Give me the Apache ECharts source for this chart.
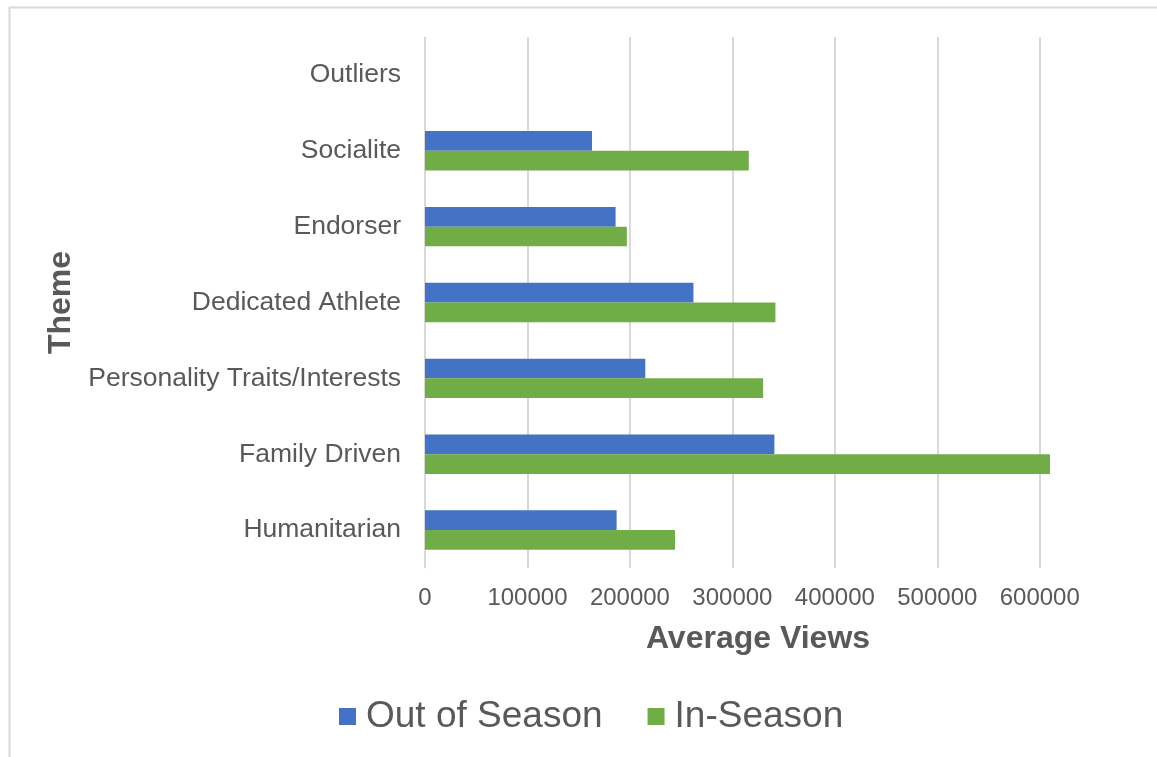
<!DOCTYPE html>
<html>
<head>
<meta charset="utf-8">
<script src="https://cdn.jsdelivr.net/npm/echarts@6/dist/echarts.min.js"></script>
<style>
html,body{margin:0;padding:0;background:#fff;}
#chart{width:1157px;height:757px;}
</style>
</head>
<body>
<div id="chart"></div>
<script>
const categories = ['Humanitarian', 'Family Driven', 'Personality Traits/Interests', 'Dedicated Athlete', 'Endorser', 'Socialite', 'Outliers'];
const outOfSeason = [187000, 341000, 215000, 262000, 186000, 163000, null];
const inSeason = [244000, 610000, 330000, 342000, 197000, 316000, null];
const xTicks = [0, 100000, 200000, 300000, 400000, 500000, 600000];

const chart = echarts.init(document.getElementById('chart'));
const font = '"Liberation Sans", Arial, sans-serif';
chart.setOption({
  animation: false,
  backgroundColor: '#fff',
  graphic: [{
    type: 'rect', left: 7, top: 5, shape: {width: 1170, height: 770},
    style: {fill: 'none', stroke: '#d9d9d9', lineWidth: 2}, silent: true
  }],
  grid: {left: 425, right: 66, top: 37, bottom: 189, containLabel: false},
  legend: {
    data: ['Out of Season', 'In-Season'],
    left: 334, top: 693,
    itemWidth: 17, itemHeight: 17, itemGap: 45,
    icon: 'rect',
    textStyle: {fontFamily: font, fontSize: 37, color: '#595959', padding: [0, 0, 0, 5]}
  },
  xAxis: {
    type: 'value', min: 0, max: 650000, interval: 100000,
    name: 'Average Views', nameLocation: 'middle', nameGap: 55,
    nameTextStyle: {fontFamily: font, fontSize: 32, fontWeight: 'bold', color: '#595959'},
    axisLine: {show: false}, axisTick: {show: false},
    axisLabel: {fontFamily: font, fontSize: 24, color: '#595959', margin: 18, showMaxLabel: false,
      formatter: v => xTicks.includes(v) ? String(v) : ''},
    splitLine: {show: true, showMaxLine: false, lineStyle: {color: '#d9d9d9', width: 2}}
  },
  yAxis: {
    type: 'category', data: categories,
    name: 'Theme', nameLocation: 'middle', nameGap: 345, nameRotate: 90,
    nameTextStyle: {fontFamily: font, fontSize: 32, fontWeight: 'bold', color: '#595959'},
    axisLine: {show: true, lineStyle: {color: '#d9d9d9', width: 1}}, axisTick: {show: false},
    axisLabel: {fontFamily: font, fontSize: 26.5, color: '#595959', margin: 24}
  },
  series: [
    {name: 'Out of Season', type: 'bar', data: outOfSeason, barGap: '0%', barCategoryGap: '48%',
      itemStyle: {color: '#4472c4'}},
    {name: 'In-Season', type: 'bar', data: inSeason, barGap: '0%', barCategoryGap: '48%',
      itemStyle: {color: '#70ad47'}}
  ]
});
</script>
</body>
</html>
